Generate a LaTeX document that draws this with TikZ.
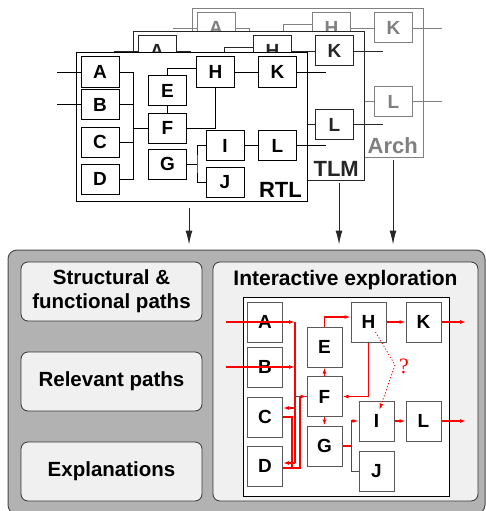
\documentclass[tikz,border=0pt]{standalone}
\usepackage{fontspec}
\setmainfont{Liberation Sans}
\newfontfamily\qmarkfont{Liberation Serif}
\usetikzlibrary{arrows.meta}

\begin{document}
\begin{tikzpicture}[x=1pt, y=-1pt,
    blk/.style={draw, fill=white, line width=1pt, minimum width=38pt, minimum height=30pt, inner sep=0pt},
    blktxt/.style={inner sep=0pt, font=\bfseries\fontsize{19}{19}\selectfont},
    layerframe/.style={draw, fill=white, line width=1pt, minimum width=231pt, minimum height=148pt, inner sep=0pt},
    wire/.style={line width=0.9pt},
    lbl/.style={anchor=base east, inner sep=0pt, font=\bfseries\fontsize{22}{22}\selectfont},
    drop/.style={black!85, line width=1pt, -{Latex[length=14pt,width=7pt]}, shorten >=5pt},
    tool/.style={draw=black!70, fill=black!30, rounded corners=9pt, line width=1pt},
    pane/.style={draw=black!80, fill=black!6, rounded corners=7pt, line width=0.8pt, align=center, font=\bfseries\fontsize{20.5}{24}\selectfont},
    ibox/.style={draw=black!65, fill=white, line width=1pt, minimum width=35pt, minimum height=40pt, inner sep=0pt, font=\bfseries\fontsize{19}{19}\selectfont},
    redline/.style={red, line width=1.2pt},
    flow/.style={redline, -{Latex[length=6pt,width=4pt]}}]
    \useasboundingbox (0,0) rectangle (486,511);

    % the three abstraction levels, back to front
    \foreach \lay/\dx/\dy/\col/\lname/\shown in {arch/116/-44/black!50/Arch/{A,H,K,L}, tlm/57/-21/black!85/TLM/{A,H,K,L}, rtl/0/0/black/RTL/{A,B,C,D,E,F,G,H,I,J,K,L}}{
    \begin{scope}[shift={(\dx,\dy)}, color=\col]
        \node[layerframe] (\lay frame) at (191.5,127) {};

        \coordinate (\lay inA) at (57,72);
        \coordinate (\lay inB) at (57,104.5);
        \node[blk] (\lay A) at (100,72) {};
        \node[blk] (\lay B) at (100,104.5) {};
        \node[blk] (\lay C) at (100,142) {};
        \node[blk] (\lay D) at (100,179) {};
        \node[blk] (\lay E) at (167.5,90.5) {};
        \node[blk] (\lay F) at (167.5,128) {};
        \node[blk] (\lay G) at (167.5,164) {};
        \node[blk] (\lay H) at (215.5,72) {};
        \node[blk] (\lay K) at (277.5,72) {};
        \node[blk] (\lay I) at (225,145.5) {};
        \node[blk] (\lay L) at (277.5,145.5) {};
        \node[blk] (\lay J) at (225,182.5) {};
        \foreach \b in \shown
            \node[blktxt] (\lay\b txt) at (\lay\b) {\b};
        \coordinate (\lay bus) at (133,72);
        \coordinate (\lay outK) at (326,72);
        \coordinate (\lay outL) at (326,145.5);

        \draw[wire] (\lay inA) -- (\lay A);
        \draw[wire] (\lay inB) -- (\lay B);
        \draw[wire] (\lay A) -- (\lay bus) -- (\lay bus |- \lay D.east) -- (\lay D);
        \draw[wire] (\lay B) -- (\lay bus |- \lay B.east);
        \draw[wire] (\lay C) -- (\lay bus |- \lay C.east);
        \draw[wire] (\lay bus |- \lay F.west) -- (\lay F);
        \draw[wire] (\lay E) -- (\lay F);
        \draw[wire] (\lay E) |- ([yshift=4pt]\lay H.west);
        \draw[wire] (\lay F) -| (\lay H);
        \draw[wire] (\lay H) -- (\lay K);
        \draw[wire] (\lay K) -- (\lay outK);
        \draw[wire] (\lay G.east) -- ++(10,0) coordinate (\lay gj);
        \draw[wire] (\lay I.west) -| (\lay gj) |- (\lay J.west);
        \draw[wire] (\lay I) -- (\lay L);
        \draw[wire] (\lay L) -- (\lay outL);

        \node[lbl] (\lay lbl) at (302,197) {\lname};
    \end{scope}
    }

    % lower part: the tool
    \node[tool, minimum width=477pt, minimum height=264pt] (tool) at (246.5,382) {};
    \node[pane, minimum width=181pt, minimum height=59pt] (struct) at (111.5,291.5) {Structural \&\\functional paths};
    \node[pane, minimum width=181pt, minimum height=59pt] (relev) at (111.5,381.5) {Relevant paths};
    \node[pane, minimum width=181pt, minimum height=59pt] (expl) at (111.5,471.5) {Explanations};
    \node[pane, minimum width=265pt, minimum height=239pt] (explore) at (345.5,381.5) {};
    \node[anchor=base, font=\bfseries\fontsize{21}{21}\selectfont] (title) at (345.5,285) {Interactive exploration};
    \node[draw, fill=white, line width=1pt, minimum width=206pt, minimum height=199pt] (canvas) at (346,396.5) {};

    \node[ibox] (iA) at (265,322) {A};
    \node[ibox] (iB) at (265,367) {B};
    \node[ibox] (iC) at (265,417) {C};
    \node[ibox] (iD) at (265,466) {D};
    \node[ibox] (iE) at (324.5,347) {E};
    \node[ibox] (iF) at (324.5,396.5) {F};
    \node[ibox] (iG) at (324.5,446) {G};
    \node[ibox] (iH) at (368.5,322) {H};
    \node[ibox] (iK) at (423.5,322) {K};
    \node[ibox] (iI) at (376.5,421) {I};
    \node[ibox] (iL) at (423.5,421) {L};
    \node[ibox] (iJ) at (376.5,471) {J};

    % highlighted path
    \coordinate (inA) at (226,322);
    \coordinate (inB) at (226,367);
    \coordinate (busT) at (295,322);
    \coordinate (busM) at (295,367);
    \coordinate (busB) at (295,463);
    \coordinate (cin) at ([yshift=9pt]iC.east);
    \coordinate (din) at ([yshift=3pt]iD.east);
    \coordinate (dout) at ([yshift=-2pt]iD.east);
    \coordinate (outK) at (466,322);
    \coordinate (outL) at (466,421);
    \coordinate (qbend) at (395,365);

    \draw[black!70, line width=1pt] (busT |- iF.west) -- (iF.west);
    \draw[black!70, line width=1pt] (iG.east) -- ++(9,0) |- (iJ.west);
    \draw[flow] (inA) -- (busT);
    \draw[flow] (inB) -- (busM);
    \draw[redline] (busT) -- (busB);
    \draw[flow] (busT |- cin) -- (cin);
    \draw[flow] (busT |- din) -- (din);
    \draw[redline] (iC.east) -- ++(9,0) coordinate (cdn) -- (cdn |- dout);
    \draw[flow] (dout) -- ++(17,0) |- (iF.west);
    \draw[flow] (iF.north) -- (iE.south);
    \draw[flow] (iF.south) -- (iG.north);
    \draw[flow] (iE.north) |- ([yshift=5pt]iH.west);
    \draw[flow] (iH.east) -- (iK.west);
    \draw[flow] (iK.east) -- (outK);
    \draw[flow] (iH.south) |- (iF.east);
    \draw[flow] (iG.east) -- ++(9,0) |- (iI.west);
    \draw[flow] (iI.east) -- (iL.west);
    \draw[flow] (iL.east) -- (outL);
    \draw[flow, dotted, line width=0.8pt] ([shift={(7pt,-10pt)}]iH.center) -- (qbend) -- ([shift={(3pt,-9pt)}]iI.north);
    \node[text=red, font=\qmarkfont\fontsize{22}{22}\selectfont] (qmark) at (404,366) {?};

    % levels feed the tool
    \coordinate (rtlout) at (189,208);
    \coordinate (tlmout) at (339,183);
    \coordinate (archout) at (393,160);
    \draw[drop] (rtlout) -- (rtlout |- tool.north);
    \draw[drop] (tlmout) -- (tlmout |- tool.north);
    \draw[drop] (archout) -- (archout |- tool.north);
\end{tikzpicture}
\end{document}
